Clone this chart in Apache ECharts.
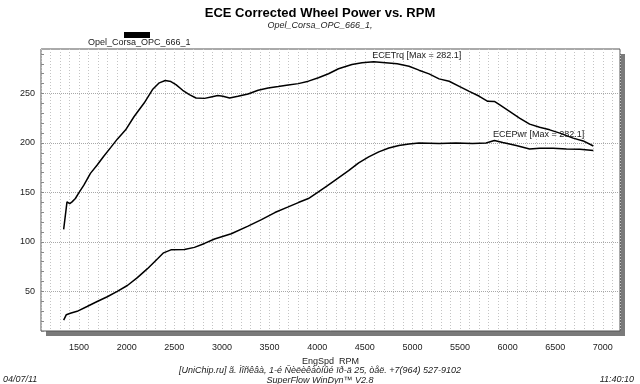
<!DOCTYPE html>
<html>
<head>
<meta charset="utf-8">
<script src="https://cdn.jsdelivr.net/npm/echarts@6/dist/echarts.min.js"></script>
<style>
html,body{margin:0;padding:0;background:#fff;}
#chart{width:640px;height:384px;}
</style>
</head>
<body>
<div id="chart"></div>
<script>
var runName = 'Opel_Corsa_OPC_666_1';
var titleText = 'ECE Corrected Wheel Power vs. RPM';
var subTitleText = 'Opel_Corsa_OPC_666_1,';
var trqLabel = 'ECETrq [Max = 282.1]';
var pwrLabel = 'ECEPwr [Max = 282.1]';
var footerLine1 = '[UniChip.ru] ã. Ìîñêâà, 1-é Ñèëèêàòíûé ïð-ä 25, òåë. +7(964) 527-9102';
var footerLine2 = 'SuperFlow WinDyn\u2122 V2.8';
var dateText = '04/07/11';
var timeText = '11:40:10';

var trqRpm = [1338,1373,1402,1426,1461,1497,1550,1619,1690,1761,1831,1901,1989,2078,2183,2271,2342,2405,2464,2517,2588,2658,2728,2817,2886,2957,3010,3081,3168,3274,3380,3485,3591,3696,3802,3908,4013,4119,4224,4365,4471,4594,4718,4840,4964,5069,5175,5280,5386,5492,5597,5703,5791,5861,5914,6020,6125,6231,6336,6442,6548,6688,6794,6900];
var trqVal = [112.7,140.5,138.8,140.5,143.9,149.6,157.4,169.3,177.7,186.9,195.3,203.9,213.3,226.8,240.4,254,260.8,263.1,262.1,259,253.3,248.9,245.5,245.1,246.5,247.9,247.2,245.5,247.2,249.6,253.3,255.5,257,258.5,260,262.5,266,270,275,279.4,281.1,282.1,281.1,280,277.6,273.6,269.9,264.8,262.4,257.3,252.2,247.2,242.1,242,238.7,231.9,225.2,219.1,216,213.3,210,204.9,202.1,197];

var pwrRpm = [1338,1366,1408,1479,1584,1690,1796,1901,2007,2112,2218,2324,2387,2464,2606,2711,2817,2922,3098,3274,3415,3556,3696,3802,3908,4013,4101,4190,4330,4436,4541,4647,4753,4858,4964,5069,5280,5457,5632,5774,5861,5949,6090,6231,6336,6477,6618,6759,6900];
var pwrVal = [21,26.5,27.9,29.9,34.8,39.8,44.6,50,56,64,73,83,89,92,92.4,94.5,98.5,103,108.3,116,122.5,129.7,135.4,139.8,143.9,150.6,156.4,162.5,172,180,186,191,195,197.5,199,200,199.5,200,199.5,200,202.5,200.5,197.5,194,194.7,194.7,194,193.7,192.3];

var xMin = 1100, xMax = 7180, xStep = 100, xLabelStep = 500;
var yMin = 10, yMax = 295, yStep = 10, yLabelStep = 50;

function zip(a, b) { var o = []; for (var i = 0; i < a.length; i++) o.push([a[i], b[i]]); return o; }

var FONT = 'Liberation Sans, Arial, sans-serif';
var TXT = '#222';
var chart = echarts.init(document.getElementById('chart'), null, {renderer: 'canvas'});

function maxLabel(txt) {
  return {
    symbol: 'circle', symbolSize: 1,
    itemStyle: {color: 'rgba(0,0,0,0)'},
    label: {show: true, formatter: txt, position: [-1, -6], align: 'left', verticalAlign: 'middle',
            color: TXT, fontSize: 9, fontFamily: FONT},
    data: [{type: 'max'}]
  };
}

var gridPos = {left: 41, right: 20, top: 49, bottom: 53};
var clear = 'rgba(0,0,0,0)';

chart.setOption({
  backgroundColor: '#fff',
  animation: false,
  title: {
    text: titleText, subtext: subTitleText, left: 'center', top: 2, itemGap: 1,
    textStyle: {fontSize: 13, fontWeight: 'bold', color: '#000', fontFamily: FONT},
    subtextStyle: {fontSize: 9, fontStyle: 'italic', color: TXT, fontFamily: FONT}
  },
  legend: {
    data: [runName], left: 119, top: 27, icon: 'rect', itemWidth: 26, itemHeight: 6,
    formatter: function () { return ''; }, selectedMode: false,
    textStyle: {fontSize: 1}
  },
  grid: [
    Object.assign({show: true, backgroundColor: '#fff', borderWidth: 0,
      shadowColor: '#7a7a7a', shadowOffsetX: 5, shadowOffsetY: 5, shadowBlur: 0}, gridPos),
    Object.assign({show: true, backgroundColor: clear, borderColor: '#555', borderWidth: 1}, gridPos)
  ],
  xAxis: [{
    type: 'value', gridIndex: 0, min: xMin, max: xMax, interval: xStep,
    name: 'EngSpd  RPM', nameLocation: 'middle', nameGap: 18,
    nameTextStyle: {fontSize: 9, color: TXT, fontFamily: FONT},
    axisLine: {show: false},
    axisTick: {show: false},
    axisLabel: {margin: 12, fontSize: 9, color: TXT, fontFamily: FONT,
                showMaxLabel: false,
                formatter: function (v) { return v % xLabelStep === 0 ? String(v) : ''; }},
    splitLine: {show: true, lineStyle: {color: '#c4c4c4', type: [1, 2], width: 1}}
  }, {
    type: 'value', gridIndex: 1, min: xMin, max: xMax, show: false
  }],
  yAxis: [{
    type: 'value', gridIndex: 0, min: yMin, max: yMax, interval: yStep,
    axisLine: {show: false},
    axisTick: {show: true, inside: true, length: 3, lineStyle: {color: '#888'}},
    axisLabel: {margin: 6, fontSize: 9, color: TXT, fontFamily: FONT,
                showMaxLabel: false,
                formatter: function (v) { return v % yLabelStep === 0 ? String(v) : ''; }},
    splitLine: {show: true, showMaxLine: false,
                lineStyle: {color: [clear, clear, clear, clear, '#a8a8a8'], type: [1, 1], width: 1}}
  }, {
    type: 'value', gridIndex: 1, min: yMin, max: yMax, show: false
  }],
  graphic: [
    {type: 'text', left: 88, top: 38, style: {text: runName, fill: TXT, font: '9px ' + FONT}},
    {type: 'text', left: 'center', top: 366, style: {text: footerLine1, fill: TXT, font: 'italic 9px ' + FONT}},
    {type: 'text', left: 'center', top: 376, style: {text: footerLine2, fill: TXT, font: 'italic 9px ' + FONT}},
    {type: 'text', left: 3, top: 375, style: {text: dateText, fill: TXT, font: 'italic 9px ' + FONT}},
    {type: 'text', right: 6, top: 375, style: {text: timeText, fill: TXT, font: 'italic 9px ' + FONT}}
  ],
  series: [
    {
      name: runName, type: 'line', data: zip(trqRpm, trqVal), showSymbol: false, symbol: 'none',
      lineStyle: {color: '#000', width: 1.5}, itemStyle: {color: '#000'},
      markPoint: maxLabel(trqLabel)
    },
    {
      name: runName, type: 'line', data: zip(pwrRpm, pwrVal), showSymbol: false, symbol: 'none',
      lineStyle: {color: '#000', width: 1.5}, itemStyle: {color: '#000'},
      markPoint: maxLabel(pwrLabel)
    }
  ]
});
</script>
</body>
</html>
